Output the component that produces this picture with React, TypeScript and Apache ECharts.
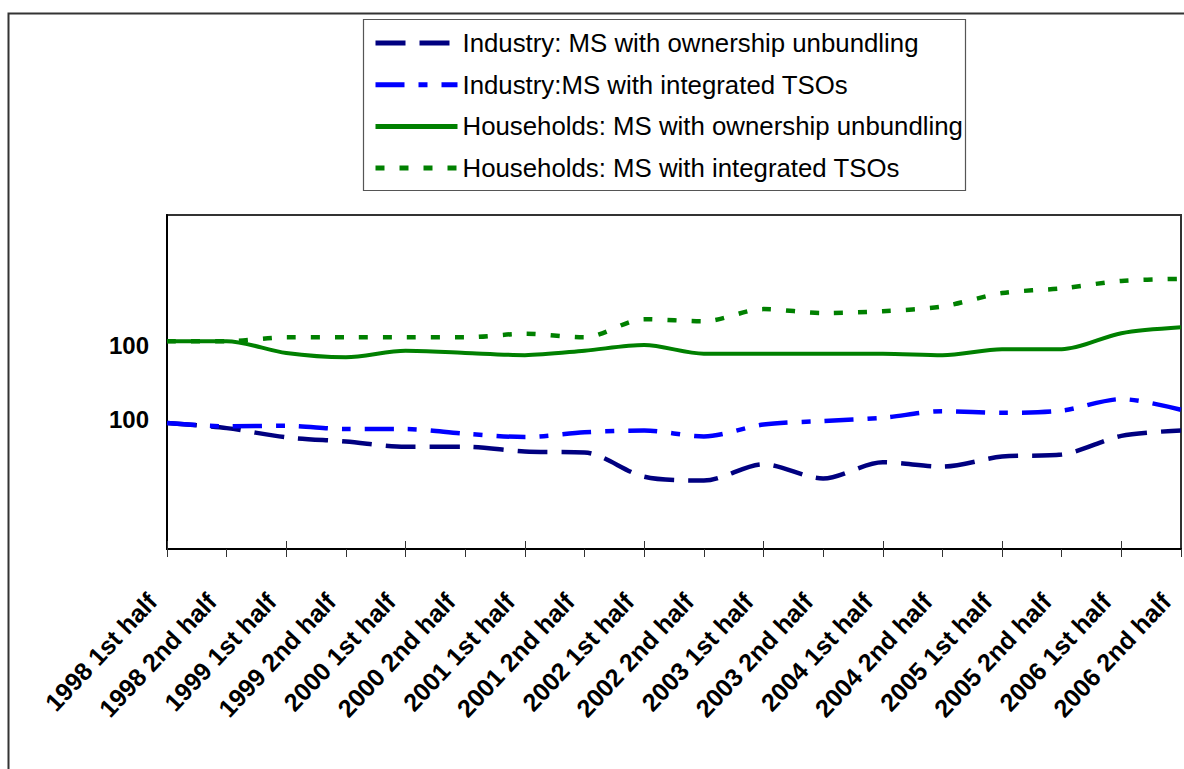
import React, { useEffect, useRef } from 'react';
import * as echarts from 'echarts';

const categories = [
  '1998 1st half', '1998 2nd half', '1999 1st half', '1999 2nd half',
  '2000 1st half', '2000 2nd half', '2001 1st half', '2001 2nd half',
  '2002 1st half', '2002 2nd half', '2003 1st half', '2003 2nd half',
  '2004 1st half', '2004 2nd half', '2005 1st half', '2005 2nd half',
  '2006 1st half', '2006 2nd half',
];

const seriesNames = [
  'Industry: MS with ownership unbundling',
  'Industry:MS with integrated TSOs',
  'Households: MS with ownership unbundling',
  'Households: MS with integrated TSOs',
];

const industryOU = [100, 98.3, 95.2, 93.8, 92.0, 92.0, 90.4, 90.1, 81.9, 80.6, 86.1, 81.3, 86.8, 85.3, 88.7, 89.4, 95.7, 97.5];
const industryITSO = [100, 98.9, 99.1, 98.0, 98.0, 96.4, 95.3, 96.9, 97.5, 95.5, 99.5, 100.7, 101.8, 104.0, 103.5, 104.2, 108.1, 104.5];
const householdsOU = [100, 100, 96.0, 94.6, 96.8, 96.0, 95.3, 96.8, 98.7, 95.8, 95.8, 95.8, 95.8, 95.3, 97.3, 97.3, 102.7, 104.7];
const householdsITSO = [100, 100, 101.3, 101.3, 101.3, 101.3, 102.5, 101.3, 107.4, 106.7, 110.8, 109.5, 110.1, 111.7, 116.2, 117.8, 120.3, 121.0];

const yTickLabel = '100';

export default function App() {
  const ref = useRef<HTMLDivElement>(null);

  useEffect(() => {
    const chart = echarts.init(ref.current as HTMLDivElement, null, { renderer: 'svg' });
    const font = 'Liberation Sans, Arial, sans-serif';
    const labelFmt = (v: number) => (Math.abs(v - 100) < 0.01 ? yTickLabel : '');
    chart.setOption({
      animation: false,
      backgroundColor: '#ffffff',
      grid: {
        left: 167,
        top: 215,
        right: 3,
        bottom: 220,
        show: true,
        borderColor: '#333',
        borderWidth: 2,
        containLabel: false,
      },
      legend: {
        orient: 'vertical',
        left: 363,
        top: 19,
        padding: [11, 5, 8, 10],
        itemWidth: 82,
        itemHeight: 14,
        itemGap: 15.7,
        itemTextGap: 5,
        data: seriesNames,
        itemStyle: { opacity: 0 },
        lineStyle: { width: 5 },
        textStyle: { fontFamily: font, fontSize: 25.8, color: '#000' },
        selectedMode: false,
      },
      xAxis: [
        {
          type: 'category',
          data: categories,
          boundaryGap: false,
          axisLine: { lineStyle: { color: '#000', width: 2 } },
          axisTick: { length: 8, lineStyle: { color: '#333', width: 1 } },
          axisLabel: {
            interval: 0,
            rotate: 47,
            margin: 32,
            padding: [0, 22, 0, 0],
            fontFamily: font,
            fontSize: 25,
            fontWeight: 'bold',
            color: '#000',
          },
          splitLine: { show: false },
        },
        {
          type: 'category',
          data: categories,
          boundaryGap: false,
          position: 'bottom',
          axisLine: { show: false },
          axisTick: { inside: true, length: 8, lineStyle: { color: '#333', width: 1 } },
          axisLabel: { show: false },
          splitLine: { show: false },
        },
      ],
      yAxis: [
        {
          type: 'value',
          position: 'left',
          min: 30,
          max: 142.5,
          interval: 10,
          axisLine: { show: true, lineStyle: { color: '#000', width: 2 } },
          axisTick: { show: false },
          splitLine: { show: false },
          axisLabel: {
            formatter: labelFmt,
            margin: 18,
            verticalAlign: 'top',
            lineHeight: 8,
            fontFamily: font,
            fontSize: 24,
            fontWeight: 'bold',
            color: '#000',
          },
        },
        {
          type: 'value',
          position: 'left',
          min: 57.5,
          max: 170.25,
          interval: 2.5,
          axisLine: { show: false },
          axisTick: { show: false },
          splitLine: { show: false },
          axisLabel: {
            formatter: labelFmt,
            margin: 18,
            verticalAlign: 'bottom',
            lineHeight: 8,
            fontFamily: font,
            fontSize: 24,
            fontWeight: 'bold',
            color: '#000',
          },
        },
      ],
      series: [
        {
          name: seriesNames[0],
          type: 'line',
          yAxisIndex: 1,
          data: industryOU,
          smooth: 0.3,
          symbol: 'none',
          lineStyle: { color: '#000080', width: 4.5, type: [30, 14], cap: 'butt' },
          itemStyle: { color: '#000080' },
        },
        {
          name: seriesNames[1],
          type: 'line',
          yAxisIndex: 1,
          data: industryITSO,
          smooth: 0.3,
          symbol: 'none',
          lineStyle: { color: '#0000FF', width: 4.5, type: [29, 14, 9, 14], cap: 'butt' },
          itemStyle: { color: '#0000FF' },
        },
        {
          name: seriesNames[2],
          type: 'line',
          yAxisIndex: 0,
          data: householdsOU,
          smooth: 0.3,
          symbol: 'none',
          lineStyle: { color: '#008000', width: 4, type: 'solid' },
          itemStyle: { color: '#008000' },
        },
        {
          name: seriesNames[3],
          type: 'line',
          yAxisIndex: 0,
          data: householdsITSO,
          smooth: 0.3,
          symbol: 'none',
          lineStyle: { color: '#008000', width: 4.5, type: [9, 15], cap: 'butt' },
          itemStyle: { color: '#008000' },
        },
      ],
      graphic: [
        {
          type: 'rect',
          silent: true,
          shape: { x: 8.5, y: 13.5, width: 1200, height: 800 },
          style: { fill: 'none', stroke: '#333', lineWidth: 2 },
        },
        {
          type: 'rect',
          silent: true,
          shape: { x: 363.5, y: 19.5, width: 602, height: 171 },
          style: { fill: 'none', stroke: '#555', lineWidth: 1.2 },
        },
      ],
    });
    return () => chart.dispose();
  }, []);

  return (
    <div
      ref={ref}
      style={{ position: 'fixed', left: 0, top: 0, width: 1184, height: 769, background: '#fff' }}
    />
  );
}
